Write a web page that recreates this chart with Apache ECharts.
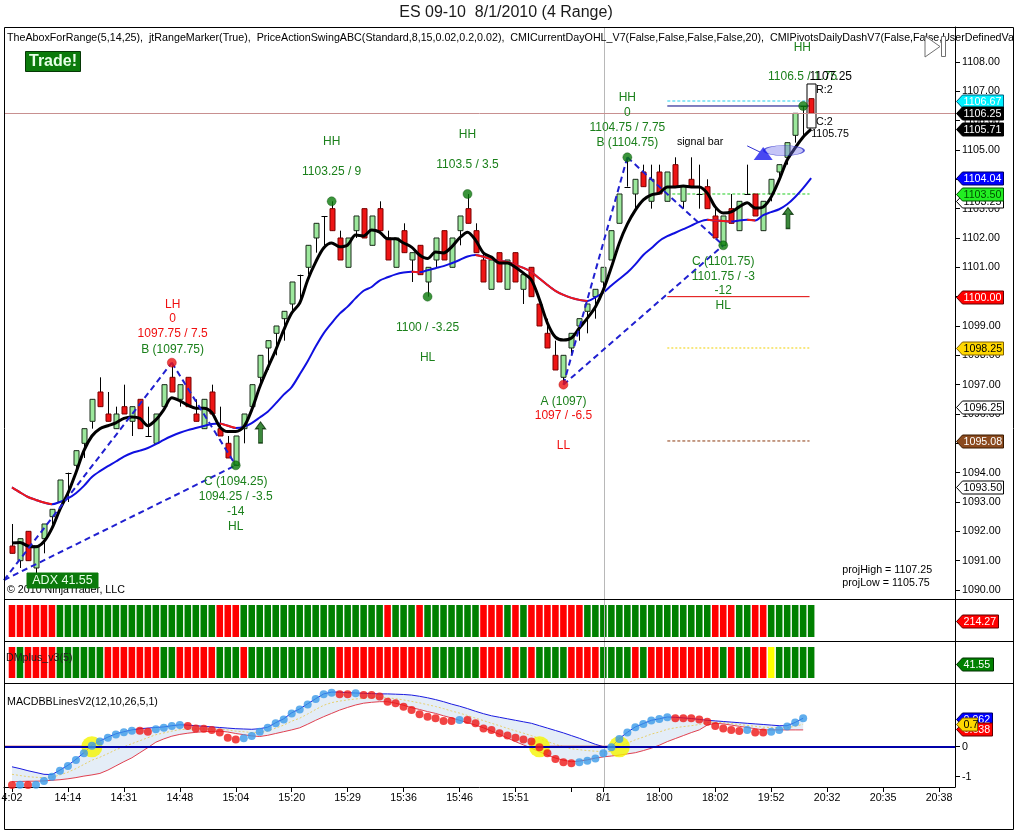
<!DOCTYPE html>
<html>
<head>
<meta charset="utf-8">
<title>ES 09-10 8/1/2010 (4 Range)</title>
<script src="https://cdn.jsdelivr.net/npm/echarts@6.0.0/dist/echarts.min.js"></script>
<style>
html,body{margin:0;padding:0;background:#fff;}
#chart{width:1016px;height:831px;}
</style>
</head>
<body>
<div id="chart"></div>
<script>
// ================= DATA =================
const barOpen = [1091.5,1091.0,1092.0,1090.75,1091.75,1092.5,1093.0,1094.0,1094.25,1095.0,
1095.75,1096.75,1096.0,1095.5,1096.25,1095.75,1096.5,1095.25,1095.0,1096.25,
1097.25,1096.5,1097.25,1096.0,1095.5,1096.75,1095.5,1095.0,1094.25,1095.5,
1096.25,1097.25,1098.25,1098.75,1099.25,1099.75,1100.75,1101.0,1102.0,1102.75,
1103.0,1102.0,1101.0,1102.25,1103.0,1101.75,1103.0,1102.0,1101.0,1102.25,
1101.25,1101.75,1100.5,1101.25,1102.25,1101.0,1102.25,1103.0,1102.25,1101.25,
1100.25,1101.5,1100.25,1101.5,1100.25,1101.0,1099.75,1098.75,1098.0,1097.25,
1098.25,1099.0,1099.5,1100.0,1100.5,1101.25,1102.5,1103.75,1103.5,1104.25,
1103.25,1104.25,1103.25,1104.5,1103.25,1104.0,1103.5,1103.75,1102.75,1101.75,
1103.0,1102.25,1103.5,1103.5,1102.25,1103.5,1104.25,1104.75,1105.5,1106.5,
1106.75];
const barHigh = [1092.25,1091.75,1092.0,1091.5,1092.25,1092.75,1093.75,1094.0,1094.75,1095.5,
1096.5,1097.25,1096.75,1096.25,1097.0,1096.25,1096.5,1096.25,1096.0,1097.0,
1097.75,1097.0,1097.25,1096.5,1096.5,1097.0,1096.25,1095.25,1095.25,1096.0,
1097.0,1098.0,1098.5,1099.0,1099.5,1100.5,1100.75,1101.75,1102.5,1102.75,
1103.25,1102.25,1102.0,1102.75,1103.0,1102.75,1103.25,1102.25,1102.0,1102.5,
1101.5,1101.75,1101.0,1102.0,1102.25,1102.0,1102.75,1103.5,1102.5,1101.5,
1101.25,1101.5,1101.25,1101.5,1100.75,1101.0,1099.75,1099.25,1098.5,1098.0,
1098.75,1099.25,1099.75,1100.25,1101.0,1102.25,1103.5,1104.75,1104.0,1104.5,
1104.5,1104.5,1104.25,1104.75,1103.75,1104.75,1104.5,1104.0,1103.0,1102.75,
1103.5,1103.25,1104.5,1103.5,1103.25,1104.0,1104.5,1105.25,1106.25,1106.5,
1106.75];
const barLow = [1091.25,1090.75,1091.0,1090.5,1091.25,1092.25,1093.0,1093.0,1094.0,1094.5,
1095.5,1096.25,1095.75,1095.5,1096.0,1095.25,1095.5,1095.25,1095.0,1096.25,
1096.75,1096.25,1096.25,1095.75,1095.5,1096.0,1095.25,1094.5,1094.25,1095.0,
1096.25,1097.0,1097.5,1098.0,1098.5,1099.5,1099.75,1100.75,1101.5,1101.75,
1102.25,1101.25,1101.0,1102.0,1102.0,1101.75,1102.25,1101.25,1101.0,1101.5,
1100.5,1100.75,1100.0,1101.0,1101.25,1101.0,1101.75,1102.5,1101.5,1100.5,
1100.25,1100.5,1100.25,1100.5,1099.75,1100.0,1099.0,1098.25,1097.5,1097.0,
1098.0,1098.5,1098.75,1099.25,1100.25,1101.25,1102.5,1103.75,1103.0,1103.75,
1103.0,1103.5,1103.25,1103.75,1103.0,1103.75,1103.0,1103.0,1102.0,1101.75,
1102.5,1102.25,1103.5,1102.75,1102.25,1103.25,1104.0,1104.5,1105.25,1105.5,
1106.25];
const barClose = [1091.25,1091.75,1091.0,1091.5,1092.25,1092.75,1093.75,1094.0,1094.75,1095.5,
1096.5,1096.25,1095.75,1096.0,1096.0,1096.25,1095.5,1095.25,1096.0,1097.0,
1096.75,1097.0,1096.25,1095.75,1096.5,1096.0,1095.25,1094.5,1095.25,1096.0,
1097.0,1098.0,1098.5,1099.0,1099.5,1100.5,1100.75,1101.75,1102.5,1102.75,
1102.25,1101.25,1102.0,1102.75,1102.0,1102.75,1102.25,1101.25,1102.0,1101.5,
1101.5,1100.75,1101.0,1102.0,1101.25,1102.0,1102.75,1102.5,1101.5,1100.5,
1101.25,1100.5,1101.25,1100.5,1100.75,1100.0,1099.0,1098.25,1097.5,1098.0,
1098.75,1099.25,1099.75,1100.25,1101.0,1102.25,1103.5,1103.75,1104.0,1103.75,
1104.0,1103.5,1104.25,1103.75,1103.75,1103.75,1103.5,1103.0,1102.0,1102.75,
1102.5,1103.25,1103.5,1102.75,1103.25,1104.0,1104.5,1105.25,1106.25,1106.5,
1106.25];

// black (fast) average
const maFast = [1091.6,1091.62,1091.5,1091.47,1091.65,1092.1,1092.75,1093.3,1094.0,1094.75,
1095.25,1095.5,1095.6,1095.7,1095.85,1095.9,1095.85,1095.6,1095.8,1096.15,
1096.55,1096.45,1096.3,1096.2,1096.2,1096.05,1095.56,1095.4,1095.4,1095.56,
1096.14,1096.92,1097.57,1098.18,1098.86,1099.44,1099.78,1100.57,1101.18,1101.66,
1101.83,1101.7,1101.76,1102.1,1102.07,1102.27,1102.2,1101.97,1101.97,1101.83,
1101.69,1101.42,1101.3,1101.52,1101.49,1101.69,1102.0,1102.2,1101.93,1101.49,
1101.35,1101.15,1101.15,1101.0,1100.8,1100.57,1099.9,1099.1,1098.62,1098.52,
1098.59,1098.93,1099.27,1099.65,1100.23,1101.0,1101.83,1102.47,1102.95,1103.3,
1103.47,1103.53,1103.74,1103.74,1103.77,1103.74,1103.74,1103.53,1103.06,1102.85,
1102.89,1103.06,1103.2,1103.02,1103.06,1103.4,1103.98,1104.66,1105.07,1105.44,
1105.71];
// slow average (blue when rising, red when falling)
const maSlow = [1093.5,1093.33,1093.17,1093.07,1092.98,1092.92,1093.0,1093.12,1093.3,1093.55,
1093.85,1094.05,1094.22,1094.38,1094.55,1094.67,1094.75,1094.84,1094.97,1095.12,
1095.25,1095.36,1095.45,1095.52,1095.59,1095.66,1095.68,1095.6,1095.52,1095.56,
1095.69,1095.88,1096.08,1096.36,1096.66,1096.92,1097.35,1097.8,1098.3,1098.75,
1099.1,1099.42,1099.66,1099.95,1100.2,1100.33,1100.55,1100.66,1100.76,1100.82,
1100.85,1100.83,1100.9,1100.97,1101.04,1101.14,1101.25,1101.37,1101.42,1101.36,
1101.28,1101.22,1101.18,1101.08,1100.98,1100.84,1100.62,1100.4,1100.2,1100.06,
1099.96,1099.89,1099.85,1099.98,1100.14,1100.38,1100.6,1100.82,1101.1,1101.42,
1101.65,1101.9,1102.06,1102.18,1102.3,1102.42,1102.55,1102.62,1102.6,1102.58,
1102.56,1102.6,1102.62,1102.6,1102.78,1102.88,1102.98,1103.15,1103.4,1103.7,
1104.04];

const projHigh = 1107.25;
const projLow = 1105.75;
const lastPrice = 1106.25;
const sessionBreakBar = 74.1;

// swing points [bar, price]
const swingHighDots = [[28,1094.25],[40,1103.25],[52,1100.0],[57,1103.5],[77,1104.75],[89,1101.75],[99,1106.5]];
const swingLowDots = [[20,1097.75],[69,1097.0]];

// ABC legs: [[barA, priceA], [barB, priceB]]
const abcLegs = [
  [[-1,1090.34],[20,1097.75]],
  [[20,1097.75],[28,1094.25]],
  [[-1,1090.34],[28,1094.25]],
  [[69,1097.0],[77,1104.75]],
  [[77,1104.75],[89,1101.75]],
  [[69,1097.0],[89,1101.75]]
];

// horizontal levels drawn over the right part: [price, kind]
const levelStartBar = 82;
const levelEndBar = 99.8;
const levels = [[1106.67,'cyan'],[1106.5,'navy'],[1103.5,'green'],[1100.0,'red'],[1098.25,'yellow'],[1095.08,'brown']];

// swing text labels [bar, price, text, tone]
const swingLabels = [
  [20.1,1099.72,'LH','r'],
  [20.1,1099.24,'0','r'],
  [20.1,1098.73,'1097.75 / 7.5','r'],
  [20.1,1098.18,'B (1097.75)','g'],
  [28,1093.68,'C (1094.25)','g'],
  [28,1093.17,'1094.25 / -3.5','g'],
  [28,1092.66,'-14','g'],
  [28,1092.15,'HL','g'],
  [40,1105.27,'HH','g'],
  [40,1104.25,'1103.25 / 9','g'],
  [57,1105.51,'HH','g'],
  [57,1104.49,'1103.5 / 3.5','g'],
  [52,1098.93,'1100 / -3.25','g'],
  [52,1097.91,'HL','g'],
  [69,1096.41,'A (1097)','g'],
  [69,1095.93,'1097 / -6.5','r'],
  [69,1094.91,'LL','r'],
  [77,1106.77,'HH','g'],
  [77,1106.26,'0','g'],
  [77,1105.75,'1104.75 / 7.75','g'],
  [77,1105.24,'B (1104.75)','g'],
  [89,1101.18,'C (1101.75)','g'],
  [89,1100.67,'1101.75 / -3','g'],
  [89,1100.19,'-12','g'],
  [89,1099.68,'HL','g'],
  [98.9,1108.48,'HH','g']
];
// last-swing labels, left-anchored [bar, price, text, tone]
const lastSwingLabels = [
  [94.6,1107.49,'1106.5 / 1.75','g'],
  [99.8,1107.49,'1107.25','k']
];
// range-marker labels, left-anchored [bar, price, text, tone]
const sideLabels = [
  [100.6,1107.05,'R:2','k'],
  [100.6,1105.95,'C:2','k'],
  [100.0,1105.55,'1105.75','k'],
  [103.9,1090.68,'projHigh = 1107.25','k'],
  [103.9,1090.24,'projLow = 1105.75','k']
];
const signalBarText = [86.1,1105.27,'signal bar'];
const signalPointer = [[92,1105.14],[93.6,1104.93]];
const signalTriangle = [94,1104.88];
const signalEllipse = [96.6,1104.98];
const upArrows = [[31.1,1095.37],[97.1,1102.68]];

// right-axis price tags [price, text, style]
const priceTags = [
  [1093.50,'1093.50','white'],
  [1095.08,'1095.08','brown'],
  [1096.25,'1096.25','white'],
  [1098.25,'1098.25','gold'],
  [1100.00,'1100.00','red'],
  [1103.25,'1103.25','white'],
  [1103.50,'1103.50','lime'],
  [1104.04,'1104.04','blue'],
  [1105.71,'1105.71','black'],
  [1106.67,'1106.67','cyan'],
  [1106.25,'1106.25','black']
];
const priceTicks = [1090,1091,1092,1093,1094,1095,1096,1097,1098,1099,1100,1101,1102,1103,1104,1105,1106,1107,1108];

// time axis
const timeTickBars = [0,7,14,21,28,35,42,49,56,63,70,74,81,88,95,102,109,116];
const timeLabelBars = [0,7,14,21,28,35,42,49,56,63,74,81,88,95,102,109,116];
const timeLabelText = ['4:02','14:14','14:31','14:48','15:04','15:20','15:29','15:36','15:46','15:51','8/1','18:00','18:02','19:52','20:32','20:35','20:38'];

// strip 1 (trend) and strip 2 (DMplus_v3(5)) colour states, one per bar
const strip1States = ('rrrrrr' + 'gggggggggggggggggggg' + 'rrr' + 'gggggggggggggggggg' + 'r' + 'ggg' + 'r' + 'ggggggg' +
  'rrr' + 'g' + 'r' + 'g' + 'rrrrrrr' + 'gggggggggggggggg' + 'rrr' + 'gg' + 'rr' + 'gggggg').split('');
const strip2States = ('r' + 'g' + 'rrrr' + 'gggggg' + 'rrrrrrr' + 'gg' + 'rrrrr' + 'ggg' + 'r' + 'ggggggggggg' +
  'rrrrrrrrrrrr' + 'gggggg' + 'rrr' + 'g' + 'r' + 'g' + 'r' + 'gggg' + 'rrrr' + 'gggg' + 'r' + 'g' +
  'rrrrrrrrr' + 'g' + 'r' + 'gg' + 'rr' + 'y' + 'ggggg').split('');
const strip1Value = '214.27';
const strip2Value = '41.55';

// MACD BB lines
const macdDots = [-1.28,-1.27,-1.28,-1.27,-1.14,-1.0,-0.8,-0.64,-0.44,-0.22,
0.03,0.17,0.3,0.41,0.48,0.53,0.53,0.5,0.58,0.63,
0.69,0.72,0.69,0.61,0.6,0.56,0.47,0.3,0.24,0.28,
0.36,0.5,0.63,0.78,0.91,1.11,1.24,1.41,1.59,1.75,
1.8,1.75,1.75,1.78,1.72,1.72,1.67,1.5,1.45,1.33,
1.22,1.08,1.0,0.95,0.86,0.86,0.89,0.89,0.78,0.61,
0.56,0.45,0.37,0.3,0.24,0.17,-0.02,-0.22,-0.41,-0.52,
-0.55,-0.52,-0.47,-0.39,-0.22,-0.02,0.26,0.47,0.65,0.76,
0.87,0.92,0.98,0.95,0.95,0.95,0.91,0.83,0.69,0.61,
0.56,0.52,0.56,0.47,0.47,0.5,0.56,0.67,0.81,0.95];
const macdDotStates = ('rbrb' + 'bbbbbbbbbbbb' + 'rr' + 'bbbb' + 'rrrrrrr' + 'bbbbbbbbbbbb' + 'rr' + 'b' +
  'rrrrrrrrrrrr' + 'b' + 'rrrrrrrrrrrrrr' + 'bbbbbbbbbbbb' + 'rrrrrrrrr' + 'b' + 'rr' + 'bbbbb').split('');
const bandUpper = [-0.67,-0.73,-0.8,-0.86,-0.92,-0.93,-0.78,-0.62,-0.42,-0.2,
0.05,0.19,0.32,0.43,0.5,0.56,0.6,0.62,0.64,0.66,
0.7,0.73,0.72,0.7,0.68,0.66,0.64,0.62,0.6,0.59,
0.58,0.6,0.65,0.8,0.93,1.13,1.26,1.43,1.6,1.76,
1.82,1.82,1.8,1.79,1.78,1.77,1.76,1.76,1.75,1.74,
1.72,1.68,1.63,1.57,1.5,1.42,1.35,1.27,1.18,1.1,
1.03,0.98,0.93,0.88,0.83,0.78,0.7,0.62,0.54,0.46,
0.37,0.28,0.18,0.08,0.0,0.0,0.27,0.48,0.66,0.77,
0.88,0.93,0.99,0.98,0.96,0.94,0.91,0.88,0.86,0.84,
0.82,0.8,0.78,0.76,0.74,0.72,0.7,0.7,0.81,0.95];
const bandLower = [-1.17,-1.16,-1.15,-1.15,-1.14,-1.12,-1.1,-1.07,-1.03,-0.98,
-0.94,-0.89,-0.78,-0.64,-0.5,-0.37,-0.2,-0.03,0.15,0.26,
0.35,0.41,0.45,0.48,0.5,0.51,0.52,0.49,0.44,0.4,
0.36,0.34,0.38,0.44,0.5,0.56,0.63,0.75,0.88,1.0,
1.11,1.22,1.31,1.39,1.45,1.48,1.5,1.5,1.45,1.38,
1.3,1.24,1.17,1.11,1.03,0.96,0.88,0.8,0.72,0.63,
0.52,0.41,0.29,0.17,0.06,-0.05,-0.17,-0.28,-0.38,-0.45,
-0.5,-0.48,-0.44,-0.38,-0.34,-0.31,-0.28,-0.24,-0.2,-0.13,
-0.05,0.05,0.17,0.27,0.37,0.47,0.56,0.72,0.78,0.76,
0.72,0.68,0.64,0.6,0.56,0.56,0.56,0.56,0.56,0.56];
const bandMid = [-0.92,-0.96,-1.0,-1.02,-1.03,-1.02,-0.94,-0.85,-0.73,-0.59,
-0.45,-0.35,-0.23,-0.1,0.0,0.1,0.2,0.3,0.4,0.46,
0.52,0.57,0.58,0.59,0.59,0.58,0.58,0.56,0.52,0.5,
0.47,0.47,0.52,0.62,0.72,0.85,0.95,1.09,1.24,1.38,
1.47,1.52,1.56,1.59,1.62,1.63,1.63,1.63,1.6,1.56,
1.51,1.46,1.4,1.34,1.27,1.19,1.12,1.04,0.95,0.87,
0.78,0.7,0.61,0.53,0.45,0.37,0.27,0.17,0.08,0.0,
-0.07,-0.1,-0.13,-0.15,-0.17,-0.16,0.0,0.12,0.23,0.32,
0.42,0.49,0.58,0.63,0.67,0.7,0.74,0.8,0.82,0.8,
0.77,0.74,0.71,0.68,0.65,0.64,0.63,0.63,0.68,0.75];
const macdCrossCircles = [[10,0],[66,0],[76,0]];
const macdBelowSegments = [[[-1,0],[10,0]],[[66,0],[76,0]]];
const macdTags = [[0.92,'0.962','blue'],[0.59,'0.638','red'],[0.76,'0.7','gold']];

// ================= STYLES =================
const FONT = '"Liberation Sans", Arial, Helvetica, sans-serif';
const GREEN_TXT = '#1b801b';
const RED_TXT = '#f01010';
const toneColor = {g: GREEN_TXT, r: RED_TXT, k: '#000000'};
const tagStyle = {
  white:{bg:'#ffffff', fg:'#000000', bd:'#000000'},
  brown:{bg:'#8b4a1e', fg:'#ffffff', bd:'#3a1a00'},
  gold:{bg:'#ffd700', fg:'#000000', bd:'#806000'},
  red:{bg:'#ff0000', fg:'#ffffff', bd:'#600000'},
  lime:{bg:'#22ee22', fg:'#005000', bd:'#005000'},
  blue:{bg:'#0000ff', fg:'#ffffff', bd:'#000060'},
  black:{bg:'#000000', fg:'#ffffff', bd:'#000000'},
  cyan:{bg:'#00f0ff', fg:'#ffffff', bd:'#006080'},
  green:{bg:'#008000', fg:'#ffffff', bd:'#003000'}
};
const levelStyle = {
  cyan:{color:'#20d0f0', type:[3,2], width:1},
  navy:{color:'#000080', type:'solid', width:1},
  green:{color:'#22cc22', type:[3,2], width:1},
  red:{color:'#e00000', type:'solid', width:1},
  yellow:{color:'#f0d000', type:[2,2], width:1},
  brown:{color:'#8b3a10', type:[3,2], width:1}
};

const X_MIN = -1, X_MAX = 118;
const PLOT_LEFT = 4, PLOT_W = 951;

// ================= BUILD =================
const chart = echarts.init(document.getElementById('chart'), null, {renderer:'canvas', width:1016, height:831});

function xAxisFor(g, visible){
  const ax = {type:'value', gridIndex:g, min:X_MIN, max:X_MAX, show:visible,
    splitLine:{show:false}, axisLine:{show:visible, onZero:false, lineStyle:{color:'#000', width:1}},
    axisTick:{show:false}, axisLabel:{show:false}};
  if (visible){
    ax.position = 'bottom';
    ax.axisTick = {show:true, inside:false, length:5, customValues:timeTickBars, lineStyle:{color:'#000'}};
    ax.axisLabel = {show:true, customValues:timeLabelBars, color:'#000', fontSize:10.7, fontFamily:FONT, margin:6,
      formatter:function(v){ const k = timeLabelBars.indexOf(Math.round(v)); return k >= 0 ? timeLabelText[k] : ''; }};
  }
  return ax;
}

function tagSeries(g, tags, width){
  return {
    type:'custom', xAxisIndex:g, yAxisIndex:g, clip:false, z:20, silent:true,
    data: tags.map(function(t){ return [X_MAX, t[0]]; }),
    renderItem: function(params, api){
      const t = tags[params.dataIndex];
      const st = tagStyle[t[2]];
      const w = (t.length > 3) ? t[3] : width;
      const p = api.coord([X_MAX, t[0]]);
      const x0 = p[0] + 1.5, y = Math.round(p[1]) + 0.5, h = 6.5;
      const pts = [[x0, y],[x0 + 6, y - h],[x0 + w, y - h],[x0 + w, y + h],[x0 + 6, y + h]];
      return {type:'group', children:[
        {type:'polygon', shape:{points:pts}, style:{fill:st.bg, stroke:st.bd, lineWidth:1}},
        {type:'text', style:{text:t[1], x:x0 + 7, y:y + 0.5, fill:st.fg, font:'10.7px ' + FONT,
          align:'left', verticalAlign:'middle', textAlign:'left', textVerticalAlign:'middle'}}
      ]};
    }
  };
}

function textSeries(list, align, size){
  return {
    type:'custom', xAxisIndex:0, yAxisIndex:0, clip:false, z:12, silent:true,
    data: list.map(function(a){ return [a[0], a[1]]; }),
    renderItem: function(params, api){
      const a = list[params.dataIndex];
      const p = api.coord([a[0], a[1]]);
      return {type:'text', style:{text:a[2], x:p[0], y:p[1], fill:toneColor[a[3]], font:size + 'px ' + FONT,
        align:align, verticalAlign:'middle', textAlign:align, textVerticalAlign:'middle'}};
    }
  };
}

function stripSeries(g, states){
  const colors = {r:'#ff0000', g:'#008000', y:'#ffff00'};
  return {
    type:'custom', xAxisIndex:g, yAxisIndex:g, z:3, silent:true,
    data: states.map(function(s, i){ return [i, 1, 0]; }),
    renderItem: function(params, api){
      const i = api.value(0);
      const a = api.coord([i - 0.41, 1]);
      const b = api.coord([i + 0.41, 0]);
      return {type:'rect', shape:{x:a[0], y:a[1], width:b[0]-a[0], height:b[1]-a[1]},
        style:{fill:colors[states[params.dataIndex]]}};
    }
  };
}

const candleData = barOpen.map(function(o, i){ return [i, o, barHigh[i], barLow[i], barClose[i]]; });
const maSlowRed = maSlow.map(function(v, i){
  const falling = (i > 0 && v < maSlow[i-1]) || (i < maSlow.length - 1 && maSlow[i+1] < v);
  return [i, falling ? v : null];
});

const series = [];

// --- main panel ---
series.push({
  type:'custom', xAxisIndex:0, yAxisIndex:0, z:2, silent:true,
  data:[[100, projLow, projHigh]],
  renderItem:function(params, api){
    const a = api.coord([api.value(0), api.value(2)]);
    const b = api.coord([api.value(0), api.value(1)]);
    return {type:'rect', shape:{x:Math.round(a[0]) - 4, y:a[1], width:9, height:b[1]-a[1]},
      style:{fill:'#ffffff', stroke:'#000000', lineWidth:1}};
  }
});
levels.forEach(function(lv){
  const s = levelStyle[lv[1]];
  series.push({type:'line', xAxisIndex:0, yAxisIndex:0, z:2, silent:true, symbol:'none',
    data:[[levelStartBar, lv[0]],[levelEndBar, lv[0]]],
    lineStyle:{color:s.color, width:s.width, type:s.type}});
});
series.push({
  type:'custom', xAxisIndex:0, yAxisIndex:0, z:3, silent:true,
  data:candleData,
  encode:{x:0, y:[1,2,3,4]},
  renderItem:function(params, api){
    const i = api.value(0), o = api.value(1), h = api.value(2), l = api.value(3), c = api.value(4);
    const pO = api.coord([i,o]), pC = api.coord([i,c]), pH = api.coord([i,h]), pL = api.coord([i,l]);
    const x = Math.round(pO[0]) + 0.5;
    const children = [{type:'line', shape:{x1:x, y1:pH[1], x2:x, y2:pL[1]}, style:{stroke:'#000000', lineWidth:1}}];
    if (o === c){
      children.push({type:'line', shape:{x1:x-3, y1:Math.round(pO[1])+0.5, x2:x+3, y2:Math.round(pO[1])+0.5}, style:{stroke:'#000000', lineWidth:1}});
    } else {
      const up = c > o;
      const top = Math.min(pO[1], pC[1]), bot = Math.max(pO[1], pC[1]);
      children.push({type:'rect', shape:{x:x-2.5, y:top, width:5, height:bot-top},
        style:{fill: up ? '#9ce89c' : '#ee1515', stroke: up ? '#1a2a1a' : '#7a0000', lineWidth:1}});
    }
    return {type:'group', children:children};
  },
  markLine:{silent:true, symbol:'none', label:{show:false}, animation:false,
    data:[
      {xAxis:sessionBreakBar, lineStyle:{color:'#b8b8b8', width:1, type:'solid'}},
      {yAxis:lastPrice, lineStyle:{color:'#c89090', width:1, type:'solid'}}
    ]}
});
series.push({type:'line', xAxisIndex:0, yAxisIndex:0, z:4, silent:true, symbol:'none', smooth:0.3,
  data:maSlow.map(function(v,i){ return [i,v]; }), lineStyle:{color:'#1010e0', width:2}});
series.push({type:'line', xAxisIndex:0, yAxisIndex:0, z:4, silent:true, symbol:'none', smooth:0.3, connectNulls:false,
  data:maSlowRed, lineStyle:{color:'#f01818', width:2}});
series.push({type:'line', xAxisIndex:0, yAxisIndex:0, z:5, silent:true, symbol:'none', smooth:0.3,
  data:maFast.map(function(v,i){ return [i,v]; }), lineStyle:{color:'#000000', width:3}});
abcLegs.forEach(function(leg){
  series.push({type:'line', xAxisIndex:0, yAxisIndex:0, z:6, silent:true, symbol:'none',
    data:leg, lineStyle:{color:'#2020d0', width:2, type:[6,4]}});
});
series.push({type:'scatter', xAxisIndex:0, yAxisIndex:0, z:7, silent:true, symbolSize:9,
  data:swingHighDots, itemStyle:{color:'#0a7a0a', borderColor:'#0a4a0a', borderWidth:0.5}});
series.push({type:'scatter', xAxisIndex:0, yAxisIndex:0, z:7, silent:true, symbolSize:9,
  data:swingLowDots, itemStyle:{color:'#ee1111', borderColor:'#aa0000', borderWidth:0.5}});
series.push({type:'scatter', xAxisIndex:0, yAxisIndex:0, z:7, silent:true, symbol:'circle', symbolSize:[40,10],
  data:[signalEllipse], itemStyle:{color:'rgba(110,110,235,0.5)', borderColor:'#3333cc', borderWidth:1}});
series.push({type:'scatter', xAxisIndex:0, yAxisIndex:0, z:8, silent:true, symbol:'triangle', symbolSize:[19,13],
  data:[signalTriangle], itemStyle:{color:'#1a1aee'}});
series.push({type:'line', xAxisIndex:0, yAxisIndex:0, z:8, silent:true, symbol:'none',
  data:signalPointer, lineStyle:{color:'#3030d0', width:1}});
series.push({type:'scatter', xAxisIndex:0, yAxisIndex:0, z:8, silent:true,
  symbol:'path://M5,0 L10,7 L7,7 L7,22 L3,22 L3,7 L0,7 Z', symbolSize:[10,21],
  data:upArrows, itemStyle:{color:'#0b6a0b', borderColor:'#022a02', borderWidth:1}});
series.push(textSeries(swingLabels, 'center', 12));
series.push(textSeries(lastSwingLabels, 'left', 12));
series.push(textSeries(sideLabels, 'left', 10.7));
series.push(textSeries([[signalBarText[0], signalBarText[1], signalBarText[2], 'k']], 'center', 10.7));
series.push(tagSeries(0, priceTags, 47));

// --- strips ---
series.push({type:'line', xAxisIndex:1, yAxisIndex:1, z:1, silent:true, symbol:'none', data:[],
  markLine:{silent:true, symbol:'none', label:{show:false}, data:[{xAxis:sessionBreakBar, lineStyle:{color:'#b8b8b8', width:1, type:'solid'}}]}});
series.push(stripSeries(1, strip1States));
series.push(tagSeries(1, [[0.5, strip1Value, 'red']], 42));
series.push({type:'line', xAxisIndex:2, yAxisIndex:2, z:1, silent:true, symbol:'none', data:[],
  markLine:{silent:true, symbol:'none', label:{show:false}, data:[{xAxis:sessionBreakBar, lineStyle:{color:'#b8b8b8', width:1, type:'solid'}}]}});
series.push(stripSeries(2, strip2States));
series.push(tagSeries(2, [[0.45, strip2Value, 'green']], 37));

// --- MACD panel ---
series.push({
  type:'custom', xAxisIndex:3, yAxisIndex:3, z:1, silent:true, data:[[0,0]],
  renderItem:function(params, api){
    const pts = [];
    for (let i = 0; i < bandUpper.length; i++) pts.push(api.coord([i, bandUpper[i]]));
    for (let i = bandLower.length - 1; i >= 0; i--) pts.push(api.coord([i, bandLower[i]]));
    return {type:'polygon', shape:{points:pts}, style:{fill:'#e4edf7'}};
  },
  markLine:{silent:true, symbol:'none', label:{show:false},
    data:[
      {xAxis:sessionBreakBar, lineStyle:{color:'#b8b8b8', width:1, type:'solid'}},
      {yAxis:0, lineStyle:{color:'#0000a8', width:2, type:'solid'}}
    ]}
});
series.push({type:'line', xAxisIndex:3, yAxisIndex:3, z:2, silent:true, symbol:'none',
  data:bandMid.map(function(v,i){ return [i,v]; }), lineStyle:{color:'#e6d070', width:1, type:[2,2]}});
series.push({type:'line', xAxisIndex:3, yAxisIndex:3, z:2, silent:true, symbol:'none',
  data:bandUpper.map(function(v,i){ return [i,v]; }), lineStyle:{color:'#1a1ae0', width:1}});
series.push({type:'line', xAxisIndex:3, yAxisIndex:3, z:2, silent:true, symbol:'none',
  data:bandLower.map(function(v,i){ return [i,v]; }), lineStyle:{color:'#e04050', width:1}});
macdBelowSegments.forEach(function(seg){
  series.push({type:'line', xAxisIndex:3, yAxisIndex:3, z:3, silent:true, symbol:'none',
    data:seg, lineStyle:{color:'#c01010', width:2}});
});
series.push({type:'scatter', xAxisIndex:3, yAxisIndex:3, z:4, silent:true, symbolSize:21,
  data:macdCrossCircles, itemStyle:{color:'#f5f500'}});
series.push({type:'scatter', xAxisIndex:3, yAxisIndex:3, z:5, silent:true, symbolSize:8,
  data:macdDots.map(function(v,i){ return [i,v]; }),
  itemStyle:{color:function(p){ return macdDotStates[p.dataIndex] === 'b' ? '#3a9ae8' : '#ee1515'; }}});
series.push(tagSeries(3, [[macdTags[0][0], macdTags[0][1], macdTags[0][2], 36],[macdTags[1][0], macdTags[1][1], macdTags[1][2], 36],[macdTags[2][0], macdTags[2][1], macdTags[2][2], 21]], 36));

const gridBase = {show:false, containLabel:false, outerBoundsMode:'none'};
const option = {
  animation:false,
  backgroundColor:'#ffffff',
  textStyle:{fontFamily:FONT},
  grid:[
    Object.assign({left:PLOT_LEFT, top:27, width:PLOT_W, height:572}, gridBase),
    Object.assign({left:PLOT_LEFT, top:599, width:PLOT_W, height:42}, gridBase),
    Object.assign({left:PLOT_LEFT, top:641, width:PLOT_W, height:42}, gridBase),
    Object.assign({left:PLOT_LEFT, top:683, width:PLOT_W, height:104}, gridBase)
  ],
  xAxis:[xAxisFor(0,false), xAxisFor(1,false), xAxisFor(2,false), xAxisFor(3,true)],
  yAxis:[
    {type:'value', gridIndex:0, position:'right', min:1089.693, max:1109.193,
      axisLine:{show:true, onZero:false, lineStyle:{color:'#000', width:1}},
      axisTick:{show:true, inside:false, length:5, customValues:priceTicks, lineStyle:{color:'#000'}},
      axisLabel:{show:true, customValues:priceTicks, color:'#000', fontSize:10.7, fontFamily:FONT, margin:7,
        formatter:function(v){ return Number(v).toFixed(2); }},
      splitLine:{show:false}},
    {type:'value', gridIndex:1, position:'right', min:-0.125, max:1.1875,
      axisLine:{show:true, onZero:false, lineStyle:{color:'#000', width:1}},
      axisTick:{show:false}, axisLabel:{show:false}, splitLine:{show:false}},
    {type:'value', gridIndex:2, position:'right', min:-0.161, max:1.194,
      axisLine:{show:true, onZero:false, lineStyle:{color:'#000', width:1}},
      axisTick:{show:false}, axisLabel:{show:false}, splitLine:{show:false}},
    {type:'value', gridIndex:3, position:'right', min:-1.343, max:2.123,
      axisLine:{show:true, onZero:false, lineStyle:{color:'#000', width:1}},
      axisTick:{show:true, inside:false, length:5, customValues:[-1,0], lineStyle:{color:'#000'}},
      axisLabel:{show:true, customValues:[-1,0], color:'#000', fontSize:10.7, fontFamily:FONT, margin:7,
        formatter:function(v){ return String(Math.round(v)); }},
      splitLine:{show:false}}
  ],
  graphic:[
    {type:'text', silent:true, z:50, style:{text:'ES 09-10  8/1/2010 (4 Range)', x:506, y:13, fill:'#1a1a1a',
      font:'16px ' + FONT, align:'center', verticalAlign:'middle', textAlign:'center', textVerticalAlign:'middle'}},
    {type:'text', silent:true, z:50, style:{text:'TheAboxForRange(5,14,25),  jtRangeMarker(True),  PriceActionSwingABC(Standard,8,15,0.02,0.2,0.02),  CMICurrentDayOHL_V7(False,False,False,False,20),  CMIPivotsDailyDashV7(False,False,UserDefinedVa',
      x:7, y:38, fill:'#000', font:'10.7px ' + FONT, align:'left', verticalAlign:'middle', textAlign:'left', textVerticalAlign:'middle'}},
    {type:'rect', silent:true, z:50, shape:{x:25.5, y:51.5, width:55, height:20}, style:{fill:'#0b7a0b', stroke:'#063806', lineWidth:1}},
    {type:'text', silent:true, z:51, style:{text:'Trade!', x:53, y:62, fill:'#e8ffe8', font:'bold 16px ' + FONT,
      align:'center', verticalAlign:'middle', textAlign:'center', textVerticalAlign:'middle'}},
    {type:'text', silent:true, z:50, style:{text:'\u00a9 2010 NinjaTrader, LLC', x:7, y:590, fill:'#000', font:'10.7px ' + FONT,
      align:'left', verticalAlign:'middle', textAlign:'left', textVerticalAlign:'middle'}},
    {type:'rect', silent:true, z:51, shape:{x:27, y:573, width:71, height:15}, style:{fill:'#0b7a0b', stroke:'#0b7a0b'}},
    {type:'text', silent:true, z:52, style:{text:'ADX 41.55', x:62.5, y:581, fill:'#e8ffe8', font:'12.5px ' + FONT,
      align:'center', verticalAlign:'middle', textAlign:'center', textVerticalAlign:'middle'}},
    {type:'polygon', silent:true, z:50, shape:{points:[[925,36],[940,46.5],[925,57]]}, style:{fill:'#ffffff', stroke:'#707070', lineWidth:1}},
    {type:'rect', silent:true, z:50, shape:{x:941.5, y:36.5, width:4, height:20}, style:{fill:'#ffffff', stroke:'#707070', lineWidth:1}},
    {type:'text', silent:true, z:30, style:{text:'DMplus_v3(5)', x:6, y:658, fill:'#202020', font:'10.7px ' + FONT,
      align:'left', verticalAlign:'middle', textAlign:'left', textVerticalAlign:'middle'}},
    {type:'text', silent:true, z:30, style:{text:'MACDBBLinesV2(12,10,26,5,1)', x:7, y:702, fill:'#000', font:'10.7px ' + FONT,
      align:'left', verticalAlign:'middle', textAlign:'left', textVerticalAlign:'middle'}},
    {type:'rect', silent:true, z:60, shape:{x:4.5, y:27.5, width:1009, height:802}, style:{fill:null, stroke:'#000', lineWidth:1}},
    {type:'line', silent:true, z:60, shape:{x1:4, y1:599.5, x2:1014, y2:599.5}, style:{stroke:'#000', lineWidth:1}},
    {type:'line', silent:true, z:60, shape:{x1:4, y1:641.5, x2:1014, y2:641.5}, style:{stroke:'#000', lineWidth:1}},
    {type:'line', silent:true, z:60, shape:{x1:4, y1:683.5, x2:1014, y2:683.5}, style:{stroke:'#000', lineWidth:1}}
  ],
  series:series
};
chart.setOption(option);
</script>
</body>
</html>
